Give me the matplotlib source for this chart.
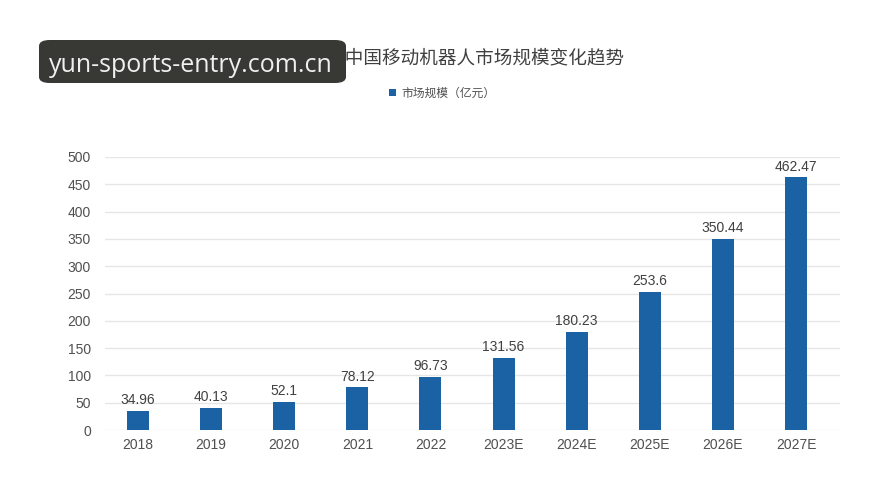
import matplotlib.pyplot as plt
from matplotlib.patches import FancyBboxPatch
import numpy as np

plt.rcParams['font.family'] = ['Noto Sans CJK SC', 'DejaVu Sans']

# data
years = ['2018', '2019', '2020', '2021', '2022', '2023E', '2024E', '2025E', '2026E', '2027E']
market = [34.96, 40.13, 52.1, 78.12, 96.73, 131.56, 180.23, 253.6, 350.44, 462.47]
labels = ['34.96', '40.13', '52.1', '78.12', '96.73', '131.56', '180.23', '253.6', '350.44', '462.47']
yticks = [0, 50, 100, 150, 200, 250, 300, 350, 400, 450, 500]

bar_color = '#1b62a5'
num_font = ['Liberation Sans', 'DejaVu Sans']

fig = plt.figure(figsize=(8.96, 5.04), dpi=100)
ax = fig.add_axes([105 / 896, 0.1468, 735 / 896, 0.5417])

x = np.arange(len(years))
ax.bar(x, market, width=0.3, color=bar_color, zorder=3, label='市场规模（亿元）')
for xi, v, t in zip(x, market, labels):
    ax.text(xi, v + 7, t, ha='center', va='bottom', fontsize=10, color='#404040',
            family=num_font)

ax.set_xlim(-0.45, 9.6)
ax.set_ylim(0, 500)
ax.set_xticks(x)
ax.set_xticklabels(years, family=num_font)
ax.set_yticks(yticks)
ax.set_yticklabels([str(t) for t in yticks], family=num_font)
ax.tick_params(axis='both', length=0, labelsize=10, colors='#505050')
ax.tick_params(axis='y', pad=10)
ax.tick_params(axis='x', pad=6)
ax.grid(axis='y', color='#e6e6e6', linewidth=1, zorder=0)
for s in ax.spines.values():
    s.set_visible(False)

fig.text(624 / 896, 1 - 58 / 504, '2018-2027年中国移动机器人市场规模变化趋势',
         ha='right', va='center', fontsize=13.4, color='#404040')
fig.legend(loc='center', bbox_to_anchor=(442 / 896, 1 - 93 / 504), frameon=False,
           fontsize=8.5, handlelength=0.6, handleheight=0.6, handletextpad=0.4,
           labelcolor='#505050')

# watermark box
box = FancyBboxPatch((39 / 896, 1 - 83 / 504), 307 / 896, 43 / 504,
                     boxstyle='round,pad=0,rounding_size=0.012',
                     transform=fig.transFigure, facecolor='#383834', edgecolor='none',
                     zorder=10)
fig.patches.append(box)
fig.text(191 / 896, 1 - 65 / 504, 'yun-sports-entry.com.cn', ha='center', va='center',
         fontsize=18, color='#f0f0f0', family=['Open Sans', 'DejaVu Sans'], zorder=11)

fig.savefig('out.png', dpi=100, facecolor='white')
